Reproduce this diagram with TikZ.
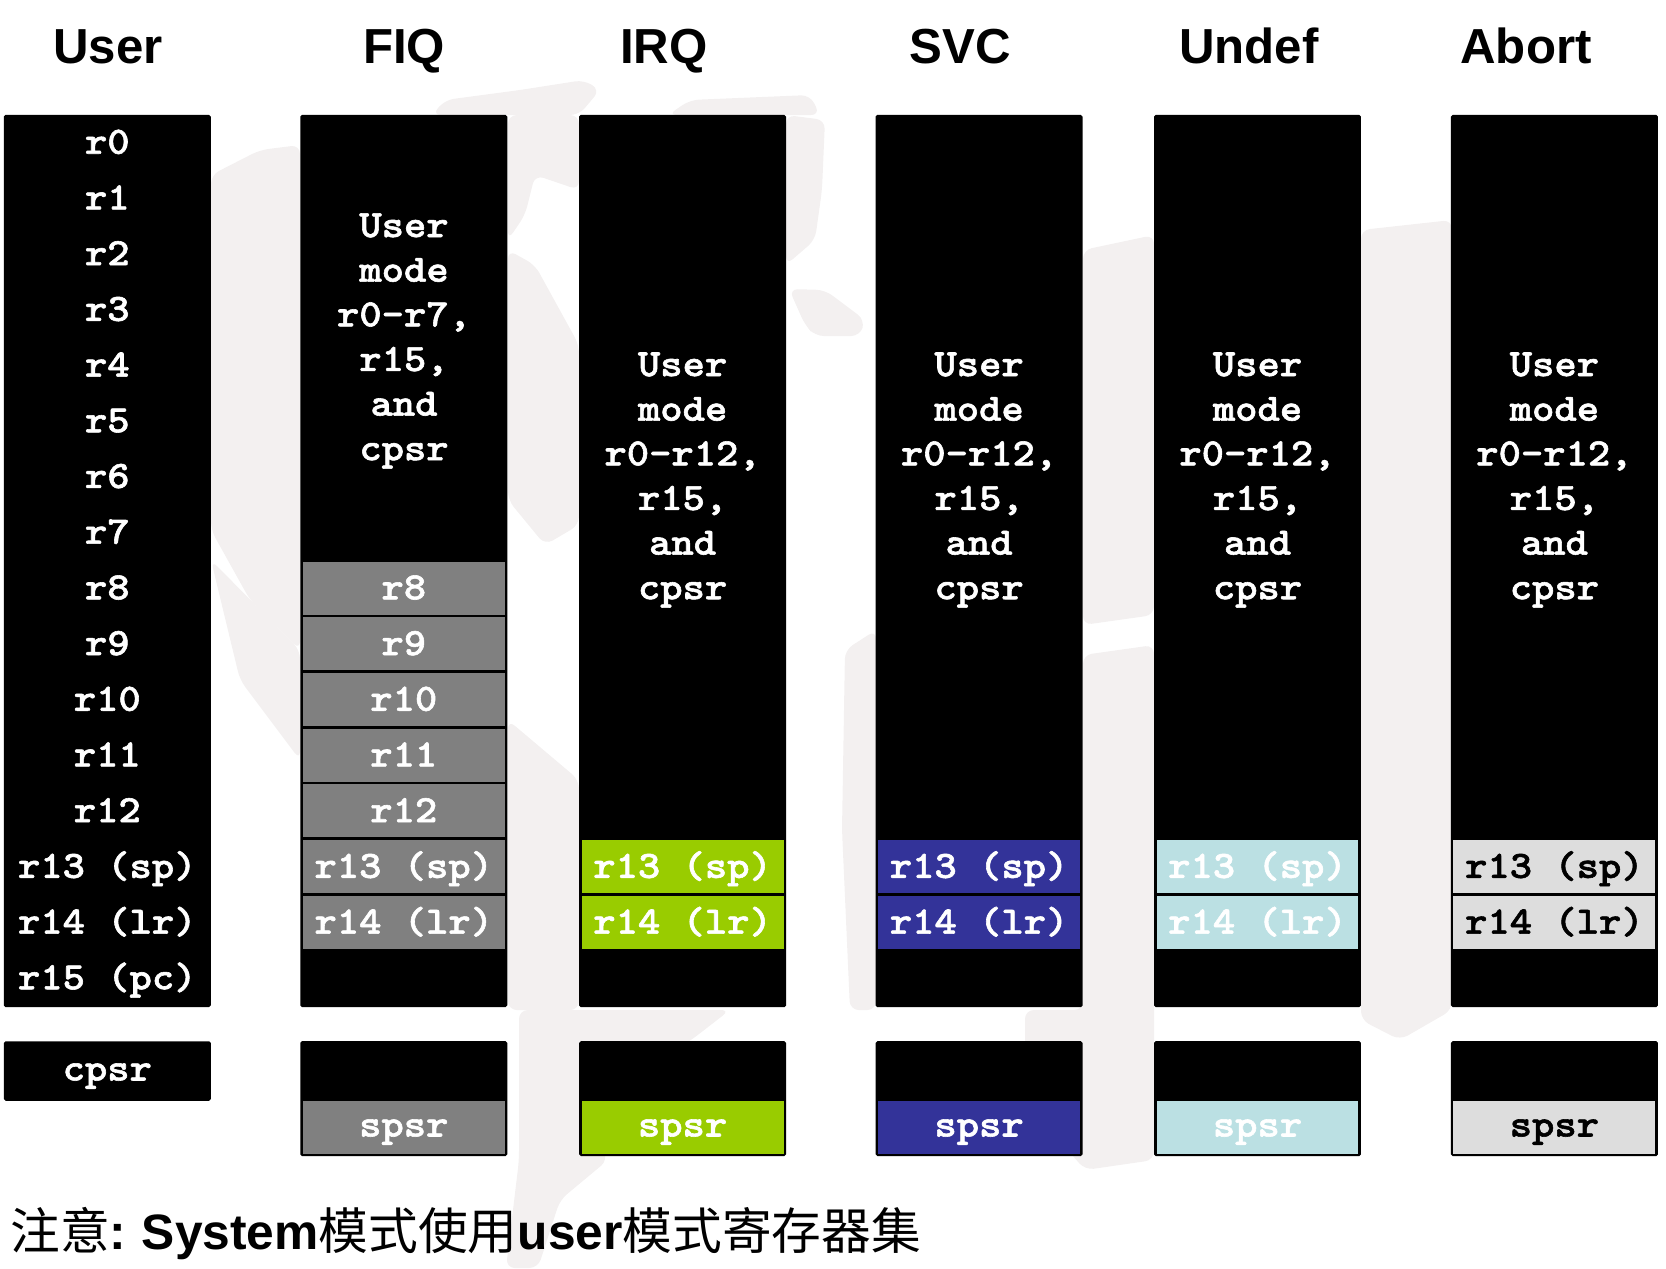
\documentclass[tikz,border=0pt]{standalone}
\usepackage{fontspec}
\setmainfont{Liberation Sans}
\newfontfamily\cjk{Noto Sans CJK SC}
\newfontfamily\regfont{lmmonolt10-bold}[Extension=.otf, FakeBold=1.5, FakeStretch=1.1]
\usepackage{tikz}
\usetikzlibrary{positioning}

\definecolor{mapgrey}{HTML}{F3F0F0}
\definecolor{fiqgrey}{HTML}{808080}
\definecolor{irqgreen}{HTML}{99CC00}
\definecolor{svcblue}{HTML}{333399}
\definecolor{undefcyan}{HTML}{BBE0E3}
\definecolor{abortgrey}{HTML}{DDDDDD}

\tikzset{
	heading/.style={anchor=base, font=\bfseries\fontsize{28}{32}\selectfont},
	bankbox/.style={fill=black, rounded corners=1pt, inner sep=0pt, minimum width=4.14cm},
	regcell/.style={inner sep=0pt, minimum width=4.04cm, minimum height=1.06cm, text=white,
		text height=16.8pt, text depth=4pt, font=\regfont\fontsize{22}{25.4}\selectfont},
	statuscell/.style={regcell, text height=14.8pt},
	sharedtext/.style={align=center, text=white, inner sep=0pt,
		font=\regfont\fontsize{22}{25.4}\selectfont},
	mapshape/.style={fill=mapgrey, draw=none, rounded corners=5pt}
}

\begin{document}
\begin{tikzpicture}[x=0.02cm, y=-0.02cm]
	\useasboundingbox (0,0) rectangle (1666,1268);

	% faint world map behind the banks
	\fill[mapshape] (211,175) -- (260,150) -- (300,145) -- (300,650) -- (250,600) -- (211,530) -- cycle;
	\fill[mapshape] (432,115) -- (445,100) -- (520,90) -- (584,80) -- (600,90) -- (579,115) -- cycle;
	\fill[mapshape] (508,115) -- (579,115) -- (579,190) -- (535,175) -- (525,215) -- (508,240) -- cycle;
	\fill[mapshape] (508,250) -- (535,265) -- (579,345) -- (579,525) -- (545,545) -- (508,500) -- cycle;
	\fill[mapshape] (668,115) -- (690,100) -- (810,95) -- (820,115) -- cycle;
	\fill[mapshape] (786,115) -- (825,120) -- (822,190) -- (815,240) -- (786,265) -- cycle;
	\fill[mapshape] (789,289) -- (825,290) -- (865,320) -- (860,336) -- (815,336) -- (805,325) -- cycle;
	\fill[mapshape] (845,650) -- (876,630) -- (876,1010) -- (850,1010) -- (842,830) -- cycle;
	\fill[mapshape] (1083,250) -- (1154,235) -- (1154,615) -- (1083,625) -- cycle;
	\fill[mapshape] (1083,655) -- (1154,645) -- (1154,1160) -- (1085,1170) -- (1025,1100) -- (1025,1010) -- (1083,1010) -- cycle;
	\fill[mapshape] (1361,230) -- (1452,220) -- (1452,1010) -- (1400,1040) -- (1361,1020) -- cycle;
	\fill[mapshape] (508,720) -- (579,780) -- (579,1010) -- (508,1010) -- cycle;
	\fill[mapshape] (519,1010) -- (730,1010) -- (690,1041) -- (579,1100) -- (608,1160) -- (560,1200) -- (538,1268) -- (506,1268) -- (519,1160) -- cycle;
	\fill[mapshape] (211,560) -- (300,650) -- (300,760) -- (240,680) -- cycle;

	% mode titles
	\node[heading] (UserTitle) at (108,63) {User};
	\node[heading] (FiqTitle) at (404,63) {FIQ};
	\node[heading] (IrqTitle) at (664,63) {IRQ};
	\node[heading] (SvcTitle) at (960,63) {SVC};
	\node[heading] (UndefTitle) at (1249,63) {Undef};
	\node[heading] (AbortTitle) at (1526,63) {Abort};

	% register banks
	\node[bankbox, minimum height=17.85cm] (UserBank) at (107.3,561) {};
	\node[bankbox, minimum height=17.85cm] (FiqBank) at (403.8,561) {};
	\node[bankbox, minimum height=17.85cm] (IrqBank) at (682.6,561) {};
	\node[bankbox, minimum height=17.85cm] (SvcBank) at (979.1,561) {};
	\node[bankbox, minimum height=17.85cm] (UndefBank) at (1257.5,561) {};
	\node[bankbox, minimum height=17.85cm] (AbortBank) at (1554.4,561) {};

	% status registers
	\node[bankbox, minimum height=1.19cm] (UserStatus) at (107.3,1071) {};
	\node[bankbox, minimum height=2.3cm] (FiqStatus) at (403.8,1098.6) {};
	\node[bankbox, minimum height=2.3cm] (IrqStatus) at (682.6,1098.6) {};
	\node[bankbox, minimum height=2.3cm] (SvcStatus) at (979.1,1098.6) {};
	\node[bankbox, minimum height=2.3cm] (UndefStatus) at (1257.5,1098.6) {};
	\node[bankbox, minimum height=2.3cm] (AbortStatus) at (1554.4,1098.6) {};

	% user registers
	\node[regcell] (R0U) at (107.3,142.5) {r0};
	\node[regcell] (R1U) at (107.3,198.2) {r1};
	\node[regcell] (R2U) at (107.3,253.9) {r2};
	\node[regcell] (R3U) at (107.3,309.6) {r3};
	\node[regcell] (R4U) at (107.3,365.3) {r4};
	\node[regcell] (R5U) at (107.3,421) {r5};
	\node[regcell] (R6U) at (107.3,476.7) {r6};
	\node[regcell] (R7U) at (107.3,532.4) {r7};
	\node[regcell] (R8U) at (107.3,588.1) {r8};
	\node[regcell] (R9U) at (107.3,643.8) {r9};
	\node[regcell] (R10U) at (107.3,699.5) {r10};
	\node[regcell] (R11U) at (107.3,755.2) {r11};
	\node[regcell] (R12U) at (107.3,810.9) {r12};
	\node[regcell] (R13U) at (107.3,866.6) {r13 (sp)};
	\node[regcell] (R14U) at (107.3,922.3) {r14 (lr)};
	\node[regcell] (R15U) at (107.3,978) {r15 (pc)};
	\node[statuscell] (CpsrU) at (107.3,1071) {cpsr};

	% FIQ registers
	\node[sharedtext] (SharedF) at (404,341) {User\\mode\\r0-r7,\\r15,\\and\\cpsr};
	\node[regcell, fill=fiqgrey] (R8F) at (403.8,588.1) {r8};
	\node[regcell, fill=fiqgrey] (R9F) at (403.8,643.8) {r9};
	\node[regcell, fill=fiqgrey] (R10F) at (403.8,699.5) {r10};
	\node[regcell, fill=fiqgrey] (R11F) at (403.8,755.2) {r11};
	\node[regcell, fill=fiqgrey] (R12F) at (403.8,810.9) {r12};
	\node[regcell, fill=fiqgrey] (R13F) at (403.8,866.6) {r13 (sp)};
	\node[regcell, fill=fiqgrey] (R14F) at (403.8,922.3) {r14 (lr)};
	\node[statuscell, fill=fiqgrey] (SpsrF) at (403.8,1127) {spsr};

	% IRQ registers
	\node[sharedtext] (SharedI) at (682.6,480) {User\\mode\\r0-r12,\\r15,\\and\\cpsr};
	\node[regcell, fill=irqgreen] (R13I) at (682.6,866.6) {r13 (sp)};
	\node[regcell, fill=irqgreen] (R14I) at (682.6,922.3) {r14 (lr)};
	\node[statuscell, fill=irqgreen] (SpsrI) at (682.6,1127) {spsr};

	% SVC registers
	\node[sharedtext] (SharedS) at (979.1,480) {User\\mode\\r0-r12,\\r15,\\and\\cpsr};
	\node[regcell, fill=svcblue] (R13S) at (979.1,866.6) {r13 (sp)};
	\node[regcell, fill=svcblue] (R14S) at (979.1,922.3) {r14 (lr)};
	\node[statuscell, fill=svcblue] (SpsrS) at (979.1,1127) {spsr};

	% Undef registers
	\node[sharedtext] (SharedN) at (1257.5,480) {User\\mode\\r0-r12,\\r15,\\and\\cpsr};
	\node[regcell, fill=undefcyan] (R13N) at (1257.5,866.6) {r13 (sp)};
	\node[regcell, fill=undefcyan] (R14N) at (1257.5,922.3) {r14 (lr)};
	\node[statuscell, fill=undefcyan] (SpsrN) at (1257.5,1127) {spsr};

	% Abort registers
	\node[sharedtext] (SharedA) at (1554.4,480) {User\\mode\\r0-r12,\\r15,\\and\\cpsr};
	\node[regcell, fill=abortgrey, text=black] (R13A) at (1554.4,866.6) {r13 (sp)};
	\node[regcell, fill=abortgrey, text=black] (R14A) at (1554.4,922.3) {r14 (lr)};
	\node[statuscell, fill=abortgrey, text=black] (SpsrA) at (1554.4,1127) {spsr};

	% note under the banks
	\node[anchor=west, inner sep=0pt, font=\fontsize{28.3}{32}\selectfont] (SystemNote) at (10,1234)
		{{\cjk 注意}\textbf{:\kern1pt\ System}{\cjk 模式使用}\textbf{user}{\cjk 模式寄存器集}};
\end{tikzpicture}
\end{document}
